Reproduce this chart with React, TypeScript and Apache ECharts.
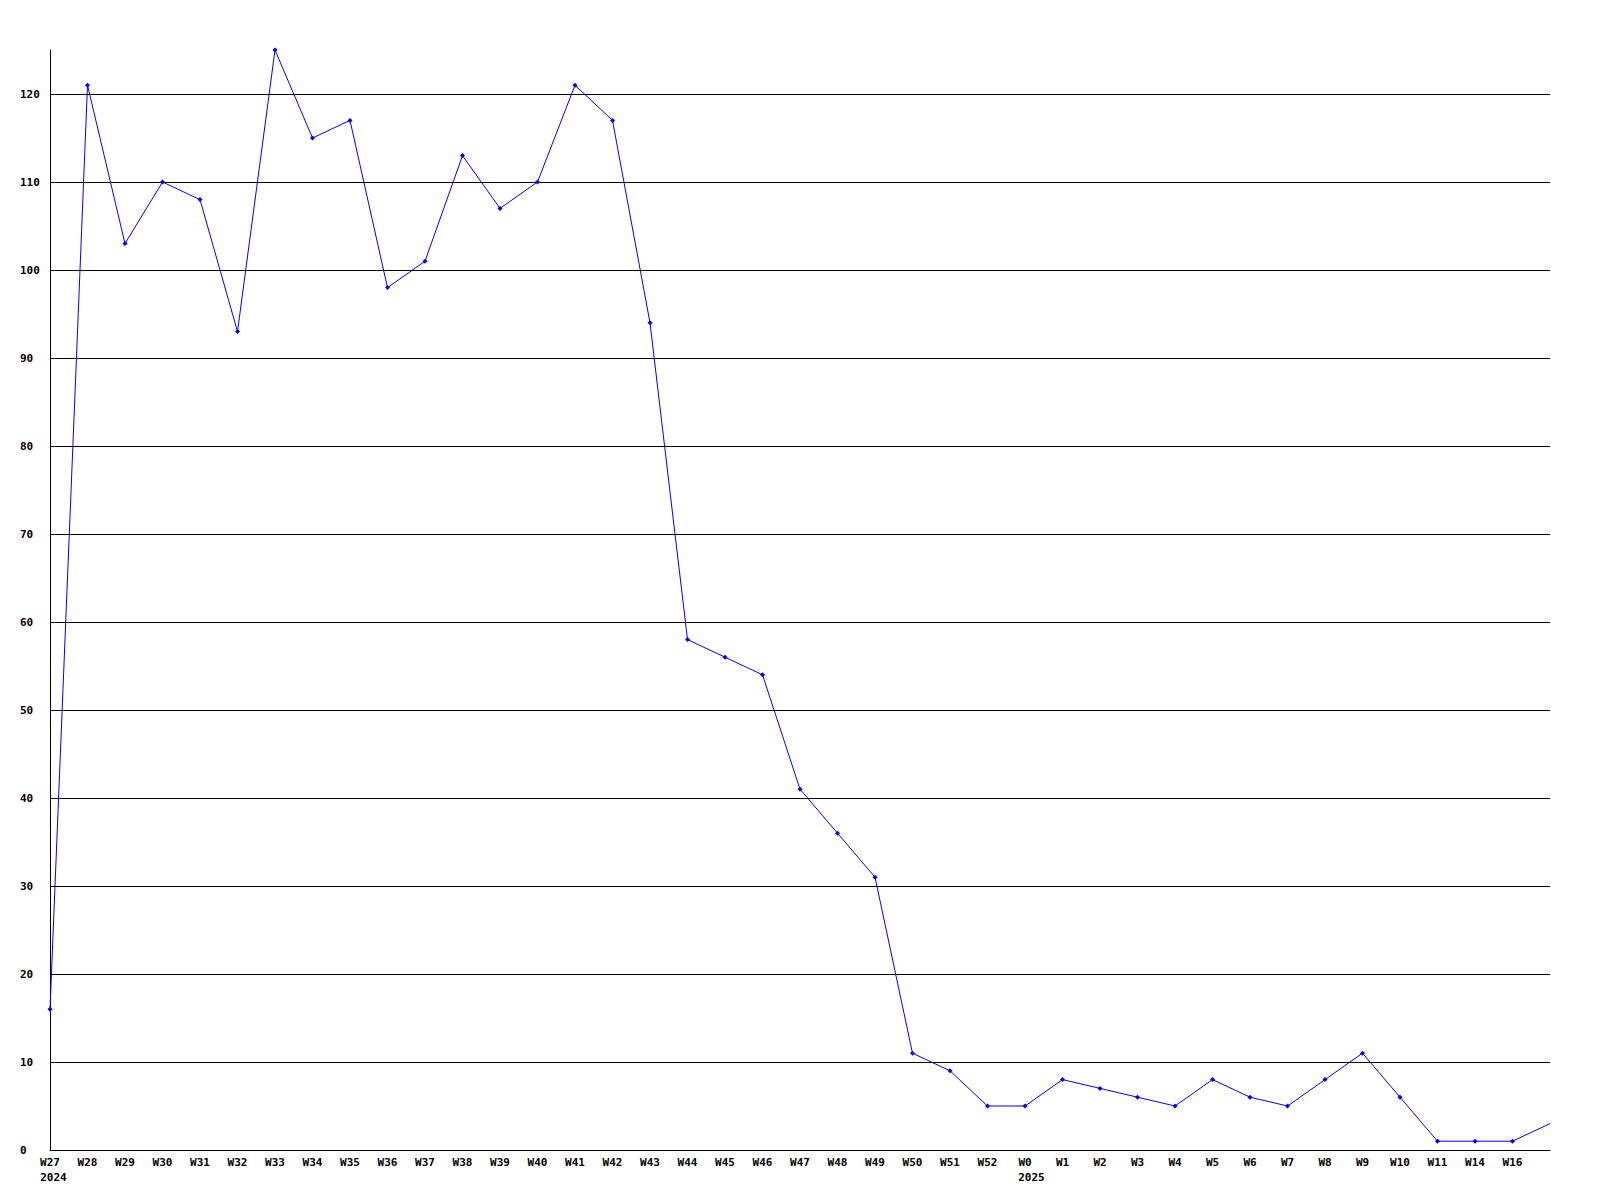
import React, { useEffect, useRef } from "react";
import * as echarts from "echarts";

const weeks = [
  "W27", "W28", "W29", "W30", "W31", "W32", "W33", "W34", "W35", "W36",
  "W37", "W38", "W39", "W40", "W41", "W42", "W43", "W44", "W45", "W46",
  "W47", "W48", "W49", "W50", "W51", "W52", "W0", "W1", "W2", "W3",
  "W4", "W5", "W6", "W7", "W8", "W9", "W10", "W11", "W14", "W16", "W17",
];

const yearMarks: Record<string, string> = { W27: "2024", W0: "2025" };

const values = [
  16, 121, 103, 110, 108, 93, 125, 115, 117, 98,
  101, 113, 107, 110, 121, 117, 94, 58, 56, 54,
  41, 36, 31, 11, 9, 5, 5, 8, 7, 6,
  5, 8, 6, 5, 8, 11, 6, 1, 1, 1, 3,
];

const gridTicks = [10, 20, 30, 40, 50, 60, 70, 80, 90, 100, 110, 120];
const yMax = 125;

export default function App() {
  const ref = useRef<HTMLDivElement>(null);
  useEffect(() => {
    if (!ref.current) return;
    const chart = echarts.init(ref.current, null, { renderer: "svg" });
    const font = {
      fontFamily: "DejaVu Sans Mono",
      fontWeight: "bold" as const,
      fontSize: 11,
      color: "#000",
    };
    const lastIdx = weeks.length - 1;
    chart.setOption({
      animation: false,
      backgroundColor: "#fff",
      grid: { left: 50, right: 50, top: 50, bottom: 50, containLabel: false },
      xAxis: {
        type: "category",
        data: weeks,
        boundaryGap: false,
        axisLine: { show: true, lineStyle: { color: "#000", width: 1 } },
        axisTick: { show: false },
        splitLine: { show: false },
        axisLabel: {
          ...font,
          margin: 5,
          lineHeight: 15,
          interval: 0,
          formatter: (v: string, i: number) => {
            if (i === lastIdx) return "";
            const y = yearMarks[v];
            if (y) {
              const pad = (y.length - v.length) * 6.62;
              return `{a|${v}}\n{b|${y}}`.replace("{b|", `{b${Math.round(pad)}|`);
            }
            return v;
          },
          rich: {
            a: { ...font, lineHeight: 15 },
            b7: { ...font, lineHeight: 15, padding: [0, 0, 0, 7] },
            b13: { ...font, lineHeight: 15, padding: [0, 0, 0, 13] },
          },
        },
      },
      yAxis: {
        type: "value",
        min: 0,
        max: yMax,
        interval: 10,
        axisLine: { show: true, lineStyle: { color: "#000", width: 1 } },
        axisTick: { show: false },
        splitLine: { show: false },
        axisLabel: {
          ...font,
          margin: 30,
          align: "left",
          formatter: (v: number) => (v === yMax ? "" : String(v)),
        },
      },
      series: [
        {
          type: "line",
          data: values.map((v, i) => (i === lastIdx ? { value: v, symbol: "none" } : v)),
          symbol: "diamond",
          symbolSize: 5,
          showAllSymbol: true,
          lineStyle: { color: "#0000ff", width: 1 },
          itemStyle: { color: "#0000ff" },
          z: 3,
          markLine: {
            silent: true,
            symbol: "none",
            label: { show: false },
            lineStyle: { color: "#000", width: 1, type: "solid" },
            data: gridTicks.map((t) => ({ yAxis: t })),
            z: 1,
          },
        },
      ],
    });
    return () => chart.dispose();
  }, []);
  return (
    <div
      ref={ref}
      style={{ position: "fixed", left: 0, top: 0, width: 1600, height: 1200 }}
    />
  );
}
